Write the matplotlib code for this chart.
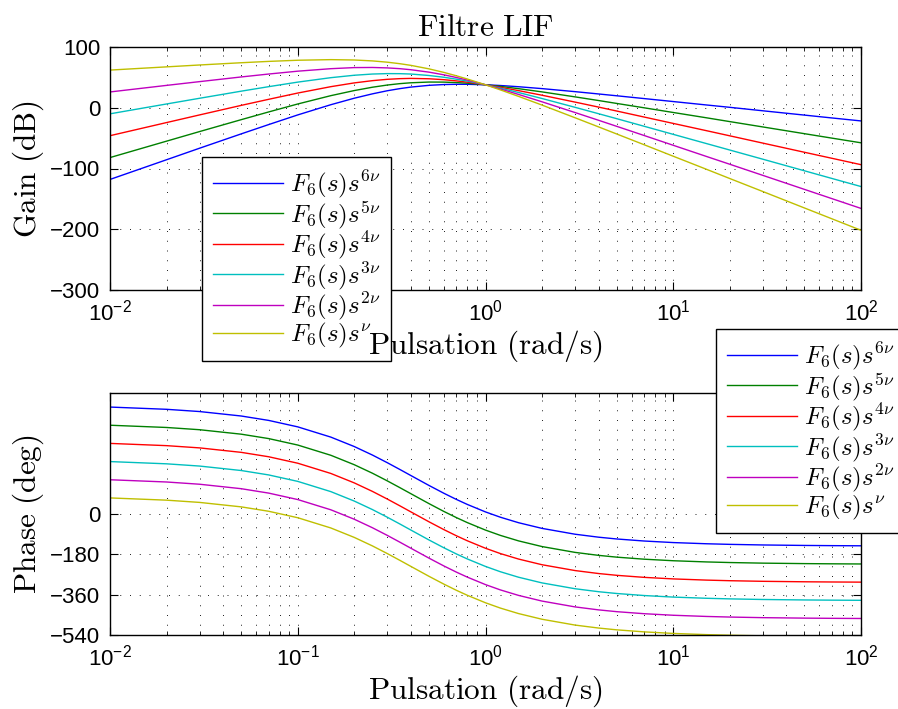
import matplotlib
matplotlib.use("Agg")
import matplotlib.pyplot as plt
from matplotlib.ticker import LogLocator, FixedLocator

plt.rcParams['font.family'] = ['Liberation Sans', 'DejaVu Sans']
plt.rcParams['mathtext.fontset'] = 'cm'

# ---------------- data ----------------
omega = [0.01, 0.02, 0.03, 0.05, 0.07, 0.1, 0.15, 0.2, 0.25, 0.3, 0.35, 0.4, 0.5, 0.6, 0.7, 0.8,
         1, 1.2, 1.5, 2, 3, 4, 5, 7, 10, 15, 20, 30, 50, 70, 100]

gain_6nu = [-118.0, -85.6, -66.6, -43.0, -27.7, -11.8, 5.0, 15.7, 22.9, 28.0, 31.5, 34.0, 36.9, 38.2, 38.6, 38.6,
            37.8, 36.6, 34.6, 31.5, 26.5, 22.7, 19.7, 15.1, 10.2, 4.6, 0.7, -5.0, -12.1, -16.8, -21.7]
gain_5nu = [-82.0, -55.0, -39.2, -19.6, -6.9, 6.2, 19.9, 28.3, 33.8, 37.4, 39.7, 41.1, 42.3, 42.2, 41.4, 40.4,
            37.8, 35.2, 31.4, 26.1, 17.9, 11.9, 7.1, -0.1, -7.8, -16.5, -22.8, -31.6, -42.7, -50.0, -57.7]
gain_4nu = [-46.0, -24.4, -11.8, 3.9, 13.9, 24.2, 34.7, 40.9, 44.6, 46.8, 47.9, 48.3, 47.7, 46.2, 44.2, 42.1,
            37.8, 33.7, 28.2, 20.6, 9.3, 1.1, -5.4, -15.3, -25.8, -37.7, -46.2, -58.2, -73.3, -83.2, -93.7]
gain_3nu = [-10.0, 6.2, 15.6, 27.3, 34.7, 42.2, 49.5, 53.5, 55.5, 56.2, 56.1, 55.5, 53.1, 50.2, 47.0, 43.9,
            37.8, 32.3, 25.1, 15.2, 0.7, -9.8, -18.0, -30.5, -43.8, -58.9, -69.6, -84.7, -103.8, -116.4, -129.7]
gain_2nu = [26.0, 36.8, 43.0, 50.7, 55.5, 60.2, 64.3, 66.1, 66.3, 65.6, 64.3, 62.6, 58.6, 54.2, 49.8, 45.6,
            37.8, 30.9, 21.9, 9.8, -7.9, -20.6, -30.6, -45.7, -61.8, -80.1, -93.0, -111.3, -134.4, -149.6, -165.7]
gain_1nu = [62.0, 67.3, 70.4, 74.1, 76.3, 78.2, 79.2, 78.6, 77.1, 75.0, 72.5, 69.8, 64.0, 58.2, 52.6, 47.3,
            37.8, 29.4, 18.7, 4.4, -16.5, -31.5, -43.2, -60.9, -79.8, -101.2, -116.5, -137.9, -165.0, -182.8, -201.7]

phase_6nu = [476.0, 466.0, 456.0, 436.1, 416.5, 387.7, 342.1, 300.0, 262.0, 227.9, 197.7, 171.0, 126.6, 91.8, 64.2, 42.0,
             8.6, -15.0, -39.5, -64.8, -90.8, -104.0, -112.0, -121.1, -128.0, -133.3, -136.0, -138.7, -140.8, -141.7, -142.4]
phase_5nu = [395.0, 385.0, 375.0, 355.1, 335.5, 306.7, 261.1, 219.0, 181.0, 146.9, 116.7, 90.0, 45.6, 10.8, -16.8, -39.0,
             -72.4, -96.0, -120.5, -145.8, -171.8, -185.0, -193.0, -202.1, -209.0, -214.3, -217.0, -219.7, -221.8, -222.7, -223.4]
phase_4nu = [314.0, 304.0, 294.0, 274.1, 254.5, 225.7, 180.1, 138.0, 100.0, 65.9, 35.7, 9.0, -35.4, -70.2, -97.8, -120.0,
             -153.4, -177.0, -201.5, -226.8, -252.8, -266.0, -274.0, -283.1, -290.0, -295.3, -298.0, -300.7, -302.8, -303.7, -304.4]
phase_3nu = [233.0, 223.0, 213.0, 193.1, 173.5, 144.7, 99.1, 57.0, 19.0, -15.1, -45.3, -72.0, -116.4, -151.2, -178.8, -201.0,
             -234.4, -258.0, -282.5, -307.8, -333.8, -347.0, -355.0, -364.1, -371.0, -376.3, -379.0, -381.7, -383.8, -384.7, -385.4]
phase_2nu = [152.0, 142.0, 132.0, 112.1, 92.5, 63.7, 18.1, -24.0, -62.0, -96.1, -126.3, -153.0, -197.4, -232.2, -259.8, -282.0,
             -315.4, -339.0, -363.5, -388.8, -414.8, -428.0, -436.0, -445.1, -452.0, -457.3, -460.0, -462.7, -464.8, -465.7, -466.4]
phase_1nu = [71.0, 61.0, 51.0, 31.1, 11.5, -17.3, -62.9, -105.0, -143.0, -177.1, -207.3, -234.0, -278.4, -313.2, -340.8, -363.0,
             -396.4, -420.0, -444.5, -469.8, -495.8, -509.0, -517.0, -526.1, -533.0, -538.3, -541.0, -543.7, -545.8, -546.7, -547.4]

labels = [r'$F_6(s)s^{6\nu}$', r'$F_6(s)s^{5\nu}$', r'$F_6(s)s^{4\nu}$',
          r'$F_6(s)s^{3\nu}$', r'$F_6(s)s^{2\nu}$', r'$F_6(s)s^{\nu}$']
gains = [gain_6nu, gain_5nu, gain_4nu, gain_3nu, gain_2nu, gain_1nu]
phases = [phase_6nu, phase_5nu, phase_4nu, phase_3nu, phase_2nu, phase_1nu]
colors = [(0, 0, 1), (0, 0.5, 0), (1, 0, 0), (0, 0.75, 0.75), (0.75, 0, 0.75), (0.75, 0.75, 0)]

gain_ticks = [-300, -200, -100, 0, 100]
phase_ticks = [-540, -360, -180, 0]

# ---------------- figure ----------------
W, H = 898, 709
fig = plt.figure(figsize=(W / 100, H / 100), dpi=100)
ax1 = fig.add_axes([110 / W, 1 - 290 / H, 751 / W, 243 / H])
ax2 = fig.add_axes([110 / W, 1 - 635 / H, 751 / W, 242.3 / H])

TICK_FS = 16
LABEL_FS = 22.5
LEG_FS = 18

for ax in (ax1, ax2):
    ax.set_xscale('log')
    ax.set_xlim(1e-2, 1e2)
    ax.xaxis.set_major_locator(LogLocator(base=10, numticks=10))
    ax.xaxis.set_minor_locator(LogLocator(base=10, subs=range(2, 10), numticks=10))
    ax.tick_params(which='both', direction='in', top=True, right=True, labelsize=TICK_FS)
    ax.tick_params(which='major', length=5.5, width=0.8, pad=7)
    ax.tick_params(which='minor', length=3, width=0.6)
    ax.grid(True, which='major', axis='both', color='k', lw=0.6, linestyle=(0, (1.2, 10.5)))
    ax.grid(True, which='minor', axis='x', color='k', lw=0.6, linestyle=(0, (1.2, 10.5)))
    for sp in ax.spines.values():
        sp.set_linewidth(1.0)

for g, c, lab in zip(gains, colors, labels):
    ax1.plot(omega, g, color=c, lw=1.0, label=lab)
for p, c, lab in zip(phases, colors, labels):
    ax2.plot(omega, p, color=c, lw=1.0, label=lab)

ax1.set_ylim(-300, 100)
ax1.yaxis.set_major_locator(FixedLocator(gain_ticks))
ax2.set_ylim(-540, 540)
ax2.yaxis.set_major_locator(FixedLocator(phase_ticks))

ax1.set_title(r'$\mathrm{Filtre\ LIF}$', fontsize=LABEL_FS, pad=8)
ax1.set_ylabel(r'$\mathrm{Gain\ (dB)}$', fontsize=LABEL_FS, labelpad=3)
ax2.set_ylabel(r'$\mathrm{Phase\ (deg)}$', fontsize=LABEL_FS, labelpad=3)
ax2.set_xlabel(r'$\mathrm{Pulsation\ (rad/s)}$', fontsize=LABEL_FS, labelpad=2)

leg_kw = dict(fontsize=LEG_FS, loc='upper left', borderaxespad=0, fancybox=False,
              framealpha=1, edgecolor='k', handlelength=2.8, handletextpad=0.25,
              labelspacing=-0.05, borderpad=0.45)
leg1 = ax1.legend(bbox_to_anchor=(202 / W, 1 - 157 / H), bbox_transform=fig.transFigure, **leg_kw)
leg2 = ax2.legend(bbox_to_anchor=(716 / W, 1 - 329 / H), bbox_transform=fig.transFigure, **leg_kw)
for lg in (leg1, leg2):
    lg.get_frame().set_linewidth(1.0)

# top x label drawn over the legend, as in the reference
fig.text(485.5 / W, 1 - 346 / H, r'$\mathrm{Pulsation\ (rad/s)}$', fontsize=LABEL_FS,
         ha='center', va='center', zorder=10)

fig.savefig('out.png', dpi=100)
